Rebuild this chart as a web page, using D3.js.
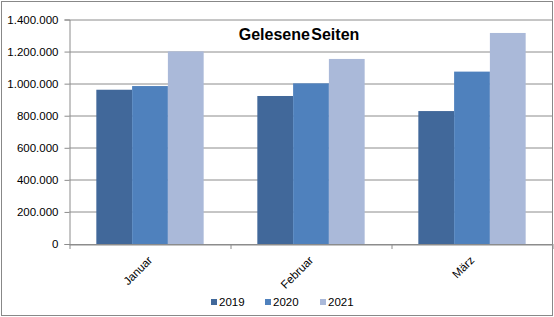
<!DOCTYPE html>
<html>
<head>
<meta charset="utf-8">
<script src="https://cdn.jsdelivr.net/npm/d3@7"></script>
<style>
  body { margin: 0; background: #fff; }
  text { font-family: "Liberation Sans", Arial, sans-serif; }
</style>
</head>
<body>
<script>
// Data
const months = ["Januar", "Februar", "März"];
const years = ["2019", "2020", "2021"];
const values2019 = [962000, 923000, 829000];
const values2020 = [985000, 1002000, 1075000];
const values2021 = [1201000, 1154000, 1316000];
const yTicks = [0, 200000, 400000, 600000, 800000, 1000000, 1200000, 1400000];
const colors = ["#41689a", "#4f81bd", "#aab9d9"];

const series = [values2019, values2020, values2021];

const W = 554, H = 317;
const margin = { top: 19.5, right: 1.5, bottom: 73, left: 69.5 };
const width = W - margin.left - margin.right;
const height = H - margin.top - margin.bottom;

const svg = d3.select("body").append("svg")
  .attr("width", W)
  .attr("height", H);

// outer frame
svg.append("rect")
  .attr("x", 1.5).attr("y", 1.5)
  .attr("width", W - 3).attr("height", H - 3)
  .attr("fill", "#fff")
  .attr("stroke", "#888")
  .attr("stroke-width", 1);

const g = svg.append("g")
  .attr("transform", "translate(" + margin.left + "," + margin.top + ")");

const x0 = d3.scaleBand().domain(months).range([0, width]);
const bw = x0.bandwidth();
// Excel gap width 150%: bars fill 3 / 4.5 of each band
const x1 = d3.scaleBand().domain(years)
  .range([bw * 0.75 / 4.5, bw - bw * 0.75 / 4.5]);
const y = d3.scaleLinear().domain([0, 1400000]).range([height, 0]);

const fmt = v => d3.format(",")(v).replace(/,/g, ".");

// gridlines
g.selectAll(".grid").data(yTicks).enter().append("line")
  .attr("x1", 0).attr("x2", width)
  .attr("y1", d => Math.round(y(d)) + 0.5)
  .attr("y2", d => Math.round(y(d)) + 0.5)
  .attr("stroke", "#8c8c8c");

// bars
months.forEach((m, i) => {
  g.selectAll(".bar" + i).data(years).enter().append("rect")
    .attr("x", d => x0(m) + x1(d))
    .attr("width", x1.bandwidth())
    .attr("y", (d, j) => y(series[j][i]))
    .attr("height", (d, j) => height - y(series[j][i]))
    .attr("fill", (d, j) => colors[j]);
});

// y axis
const yAxis = d3.axisLeft(y).tickValues(yTicks).tickFormat(fmt).tickSize(5).tickPadding(6);
const ya = g.append("g").call(yAxis);
ya.select(".domain").attr("stroke", "#8c8c8c");
ya.selectAll(".tick line").attr("stroke", "#8c8c8c");
ya.selectAll("text").attr("font-size", 11.5).attr("fill", "#000")
  .style("font-family", "Liberation Sans, Arial, sans-serif");

// x axis line + ticks at band boundaries
g.append("line")
  .attr("x1", 0).attr("x2", width)
  .attr("y1", height + 0.5).attr("y2", height + 0.5)
  .attr("stroke", "#8c8c8c");
const bounds = months.map(m => x0(m)).concat([width]);
g.selectAll(".xt").data(bounds).enter().append("line")
  .attr("x1", d => Math.round(d) + 0.5).attr("x2", d => Math.round(d) + 0.5)
  .attr("y1", height).attr("y2", height + 5)
  .attr("stroke", "#8c8c8c");

// month labels, rotated
g.selectAll(".xl").data(months).enter().append("text")
  .attr("transform", d => "translate(" + (x0(d) + bw / 2 + 3) + "," + (height + 17) + ") rotate(-45)")
  .attr("text-anchor", "end")
  .attr("font-size", 11.5)
  .attr("fill", "#000")
  .text(d => d);

// title
svg.append("text")
  .attr("x", 299).attr("y", 40)
  .attr("text-anchor", "middle")
  .attr("font-size", 16)
  .attr("font-weight", "bold")
  .attr("word-spacing", -3)
  .text("Gelesene Seiten");

// legend
const legX = [211, 265, 320];
years.forEach((yr, i) => {
  svg.append("rect")
    .attr("x", legX[i]).attr("y", 299)
    .attr("width", 6).attr("height", 6)
    .attr("fill", colors[i]);
  svg.append("text")
    .attr("x", legX[i] + 8).attr("y", 306)
    .attr("font-size", 11.5)
    .attr("fill", "#000")
    .text(yr);
});
</script>
</body>
</html>
